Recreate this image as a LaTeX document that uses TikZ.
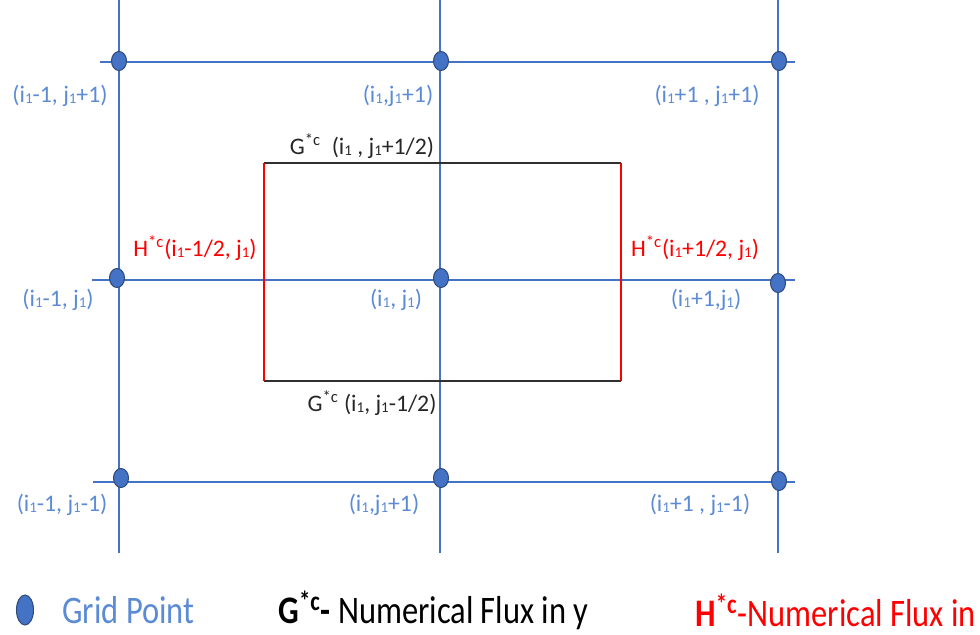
\documentclass[tikz,border=0pt]{standalone}
\usepackage{fontspec}
\setmainfont{Carlito}
\usetikzlibrary{shapes.geometric}
\definecolor{gridblue}{HTML}{4472C4}
\definecolor{dotedge}{HTML}{2F4B7C}
\definecolor{labblue}{HTML}{5B8BD5}
\definecolor{fluxred}{HTML}{FF0000}
\definecolor{edgegray}{HTML}{303030}
\tikzset{
  gline/.style={draw=gridblue, line width=0.9pt},
  gdot/.style={ellipse, draw=dotedge, line width=0.6pt, fill=gridblue, minimum width=0.3cm, minimum height=0.38cm, inner sep=0pt},
  glab/.style={text=labblue, font=\fontsize{13.5}{15}\selectfont, inner sep=0pt},
  hlab/.style={text=fluxred, font=\fontsize{13.5}{15}\selectfont, inner sep=0pt},
  clab/.style={text=black!85, font=\fontsize{13.5}{15}\selectfont, inner sep=0pt},
  redge/.style={draw=fluxred, line width=0.8pt},
  kedge/.style={draw=edgegray, line width=0.8pt},
  legtext/.style={font=\fontsize{18.5}{21}\selectfont, inner sep=0pt, anchor=west, yscale=1.2, transform shape}
}
\newcommand{\myone}{\raisebox{-0.6pt}{\fontsize{8.5}{9}\selectfont 1}}
\newcommand{\mystar}{\textsuperscript{*c}}
\begin{document}
\begin{tikzpicture}[x=0.02cm, y=-0.02cm]
\useasboundingbox (0,0) rectangle (980,635);
% grid line end points
\coordinate (v1t) at (119,0);   \coordinate (v1b) at (119,553);
\coordinate (v2t) at (440,0);   \coordinate (v2b) at (440,553);
\coordinate (v3t) at (778,0);   \coordinate (v3b) at (778,553);
\coordinate (h1l) at (100,62);  \coordinate (h1r) at (795,62);
\coordinate (h2l) at (92,280);  \coordinate (h2r) at (795,280);
\coordinate (h3l) at (93,482);  \coordinate (h3r) at (795,482);
\draw[gline] (v1t) -- (v1b);
\draw[gline] (v2t) -- (v2b);
\draw[gline] (v3t) -- (v3b);
\draw[gline] (h1l) -- (h1r);
\draw[gline] (h2l) -- (h2r);
\draw[gline] (h3l) -- (h3r);
% cell
\coordinate (ctl) at (264,163); \coordinate (ctr) at (621,163);
\coordinate (cbl) at (264,381); \coordinate (cbr) at (621,381);
\draw[kedge] (ctl) -- (ctr);
\draw[kedge] (cbl) -- (cbr);
\draw[redge] (ctl) -- (cbl);
\draw[redge] (ctr) -- (cbr);
% dots
\node[gdot] (d11) at (119,61) {};
\node[gdot] (d12) at (441,61) {};
\node[gdot] (d13) at (779,61) {};
\node[gdot] (d21) at (117,278) {};
\node[gdot] (d22) at (441,278) {};
\node[gdot] (d23) at (778,283) {};
\node[gdot] (d31) at (121,478) {};
\node[gdot] (d32) at (441,478) {};
\node[gdot] (d33) at (779,481) {};
% grid labels
\node[glab] (l11) at (60,96) {(i\myone-1, j\myone+1)};
\node[glab] (l12) at (398,96) {(i\myone,j\myone+1)};
\node[glab] (l13) at (707,96) {(i\myone+1 , j\myone+1)};
\node[glab] (l21) at (58,300) {(i\myone-1, j\myone)};
\node[glab] (l22) at (396,300) {(i\myone, j\myone)};
\node[glab] (l23) at (706,300) {(i\myone+1,j\myone)};
\node[glab] (l31) at (62,505) {(i\myone-1, j\myone-1)};
\node[glab] (l32) at (384,505) {(i\myone ,j\myone+1)};
\node[glab] (l33) at (700,505) {(i\myone+1 , j\myone-1)};
% flux labels
\node[hlab] (hl) at (195,248) {H\mystar(i\myone-1/2, j\myone)};
\node[hlab] (hr) at (695,248) {H\mystar(i\myone+1/2, j\myone)};
\node[clab] (gt) at (362,146) {G\mystar\ \ (i\myone\ , j\myone+1/2)};
\node[clab] (gb) at (372,403) {G\mystar\ (i\myone, j\myone-1/2)};
% legend
\node[gdot, minimum width=0.34cm, minimum height=0.6cm] (ldot) at (25,610) {};
\node[legtext, text=labblue] (lgp) at (62,610) {Grid Point};
\node[legtext, text=black] (lg) at (278,610) {\textbf{G\mystar-} Numerical Flux in y};
\node[legtext, text=fluxred] (lh) at (695,610) {\textbf{H\mystar}-Numerical Flux in};
\end{tikzpicture}
\end{document}
